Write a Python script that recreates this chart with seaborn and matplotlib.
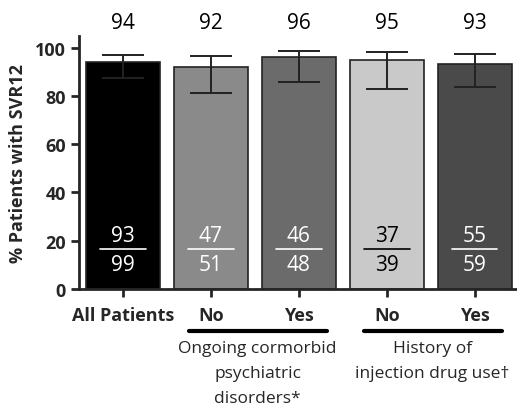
import pandas as pd
import matplotlib.pyplot as plt
import seaborn as sns

# values
keys = ["all", "psych_no", "psych_yes", "idu_no", "idu_yes"]
tick_labels = ["All Patients", "No", "Yes", "No", "Yes"]
svr12 = [94, 92, 96, 95, 93]
ci_low = [87.3, 81.3, 85.9, 83.0, 83.5]
ci_high = [97.0, 96.7, 98.6, 98.3, 97.2]
responders = [93, 47, 46, 37, 55]
totals = [99, 51, 48, 39, 59]
bar_colors = ["#000000", "#8a8a8a", "#6b6b6b", "#c9c9c9", "#4a4a4a"]
frac_colors = ["white", "white", "white", "black", "white"]
groups = ["Ongoing cormorbid\npsychiatric\ndisorders*", "History of\ninjection drug use\u2020"]

df = pd.DataFrame({"key": keys, "svr": svr12})

sns.set_style("ticks")
plt.rcParams["font.family"] = ["Open Sans", "DejaVu Sans"]

fig = plt.figure(figsize=(5.17, 4.06), dpi=100)
ax = fig.add_axes([0.153, 0.286, 0.85, 0.624])

sns.barplot(data=df, x="key", y="svr", hue="key", palette=bar_colors,
            order=keys, hue_order=keys, legend=False, width=0.84,
            edgecolor="#222222", linewidth=1.2, ax=ax)

# error bars (95% CI)
x = list(range(len(keys)))
yerr = [[v - lo for v, lo in zip(svr12, ci_low)], [hi - v for v, hi in zip(svr12, ci_high)]]
ax.errorbar(x, svr12, yerr=yerr, fmt="none", ecolor="#222222", elinewidth=1.4,
            capsize=15, capthick=1.4)

# n/N fractions inside the bars and percentages on top
for i in x:
    c = frac_colors[i]
    ax.text(i, 22.0, str(responders[i]), ha="center", va="center", fontsize=15, color=c)
    ax.text(i, 10.0, str(totals[i]), ha="center", va="center", fontsize=15, color=c)
    ax.plot([i - 0.26, i + 0.26], [16.6, 16.6], color=c, lw=1.2)
    ax.text(i, 110.5, str(svr12[i]), ha="center", va="center", fontsize=15,
            color="black", clip_on=False)

ax.set_xlim(-0.5, 4.5)
ax.set_ylim(0, 105)
ax.set_yticks([0, 20, 40, 60, 80, 100])
ax.set_xticks(x)
ax.set_xticklabels(tick_labels, fontsize=13, fontweight="bold")
ax.tick_params(axis="y", labelsize=13, width=2, length=6)
ax.tick_params(axis="x", width=2, length=6, pad=6)
for lbl in ax.get_yticklabels():
    lbl.set_fontweight("bold")
ax.set_xlabel("")
ax.set_ylabel("% Patients with SVR12", fontsize=13, fontweight="bold", labelpad=6)
sns.despine(ax=ax)
for s in ["left", "bottom"]:
    ax.spines[s].set_linewidth(2)

# group brackets under the x labels
ax.plot([0.75, 2.32], [-17.5, -17.5], color="black", lw=3, clip_on=False)
ax.plot([2.74, 4.31], [-17.5, -17.5], color="black", lw=3, clip_on=False)
ax.text(1.53, -21, groups[0], ha="center", va="top", fontsize=12.5, linespacing=1.75, clip_on=False)
ax.text(3.52, -21, groups[1], ha="center", va="top", fontsize=12.5, linespacing=1.75, clip_on=False)

fig.savefig("out.png", dpi=100)
